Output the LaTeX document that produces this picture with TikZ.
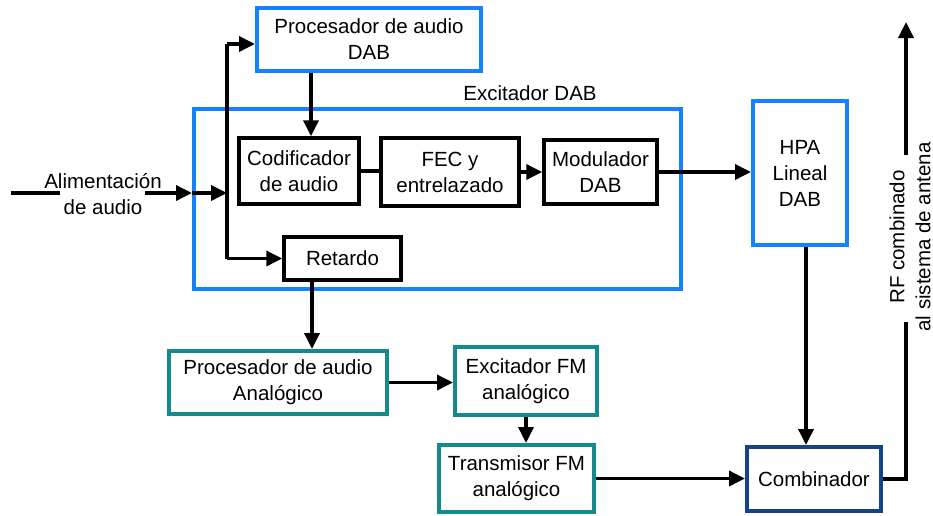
\documentclass[tikz,border=0pt]{standalone}
\usepackage{fontspec}
\setmainfont{Liberation Sans}
\usetikzlibrary{arrows.meta,calc}
\definecolor{dabblue}{RGB}{20,130,255}
\definecolor{fmteal}{RGB}{20,138,138}
\definecolor{combblue}{RGB}{18,68,140}
\begin{document}
\begin{tikzpicture}[x=1pt,y=-1pt,
  every node/.style={font=\fontsize{20.5}{26}\selectfont, align=center, inner sep=0pt},
  blk/.style={draw=black, line width=3.5pt, rectangle},
  dabbox/.style={draw=dabblue, line width=4pt, rectangle},
  fmbox/.style={draw=fmteal, line width=4pt, rectangle},
  combbox/.style={draw=combblue, line width=4pt, rectangle},
  conn/.style={line width=3.5pt, draw=black},
  arr/.style={conn, -{Triangle[length=16pt,width=15pt]}}]
\useasboundingbox (0,0) rectangle (933,515);
% DAB blocks
\node[dabbox, minimum width=224pt, minimum height=63pt] (procDAB) at (369,39.5) {Procesador de audio\\DAB};
\node[dabbox, minimum width=487pt, minimum height=180pt] (excit) at (437.5,199) {};
\node (excitlbl) at (530,93) {Excitador DAB};
\node[blk, minimum width=120pt, minimum height=66pt] (cod) at (299,171) {Codificador\\de audio};
\node[blk, minimum width=138pt, minimum height=68pt] (fec) at (450,172) {FEC y\\entrelazado};
\node[blk, minimum width=113pt, minimum height=64pt] (mod) at (600.5,172) {Modulador\\DAB};
\node[blk, minimum width=117pt, minimum height=43pt] (ret) at (342.5,258.5) {Retardo};
\node[dabbox, minimum width=94pt, minimum height=144pt] (hpa) at (800,173) {HPA\\Lineal\\DAB};
% FM blocks
\node[fmbox, minimum width=218pt, minimum height=63pt] (procA) at (278,382.5) {Procesador de audio\\Anal\'ogico};
\node[fmbox, minimum width=142pt, minimum height=68pt] (excFM) at (526,381) {Excitador FM\\anal\'ogico};
\node[fmbox, minimum width=155pt, minimum height=67pt] (trans) at (516.5,478.5) {Transmisor FM\\anal\'ogico};
\node[combbox, minimum width=134pt, minimum height=64pt] (comb) at (814,479) {Combinador};
% input
\node (inlbl) at (103,194) {Alimentaci\'on\\de audio};
\coordinate (in0) at (11,193);
\coordinate (inA) at (60,193);
\coordinate (inB) at (145,193);
\coordinate (split) at (227,193);
\draw[conn] (in0) -- (inA);
\draw[arr] (inB) -- (inB -| excit.west);
\draw[arr] (inB -| excit.west) -- (split);
\coordinate (topsplit) at (227,44);
\coordinate (botsplit) at (227,258.5);
\draw[conn] (topsplit) -- (botsplit);
\draw[arr] (topsplit) -- (topsplit -| procDAB.west);
\draw[arr] (botsplit) -- (ret.west);
% DAB chain
\coordinate (codin) at ([xshift=12pt]cod.north);
\draw[arr] (codin |- procDAB.south) -- (codin);
\draw[conn] (cod.east) -- (cod.east -| fec.west);
\draw[arr] (fec.east) -- (fec.east -| mod.west);
\draw[arr] (mod.east) -- (mod.east -| hpa.west);
\coordinate (hpaout) at ([xshift=6pt]hpa.south);
\draw[arr] (hpaout) -- (hpaout |- comb.north);
% FM chain
\coordinate (retout) at ([xshift=-30.5pt]ret.south);
\draw[arr] (retout) -- (retout |- procA.north);
\draw[arr] (procA.east) -- (procA.east -| excFM.west);
\draw[arr] (excFM.south) -- (excFM.south |- trans.north);
\draw[arr] (trans.east) -- (trans.east -| comb.west);
% output
\coordinate (outA) at (906,322);
\coordinate (outB) at (906,155);
\coordinate (outC) at (906,22);
\draw[conn] (comb.east) -| (outA);
\draw[arr] (outB) -- (outC);
\node[rotate=90] (outlbl) at (910,237) {RF combinado\\al sistema de antena};
\end{tikzpicture}
\end{document}
